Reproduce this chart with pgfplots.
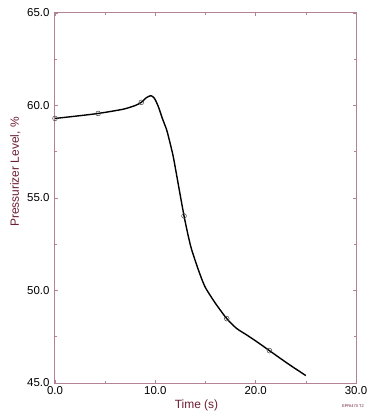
\documentclass[border=0pt]{standalone}
\usepackage{pgfplots}
\pgfplotsset{compat=1.18}
\usepackage{fontspec}
\setmainfont{Liberation Sans}
\definecolor{frame}{RGB}{180,130,150}
\definecolor{lab}{RGB}{110,30,50}
\begin{document}
\begin{tikzpicture}[x=1bp,y=1bp]
\useasboundingbox (-55,-37) rectangle (326,383);
\begin{axis}[
  at={(0,0)}, anchor=south west,
  scale only axis, width=301bp, height=370bp,
  xmin=0, xmax=30, ymin=45, ymax=65,
  xtick={0,10,20,30}, ytick={45,50,55,60,65},
  minor xtick={5,15,25}, minor ytick={47.5,52.5,57.5,62.5},
  xticklabels={0.0,10.0,20.0,30.0},
  yticklabels={45.0,50.0,55.0,60.0,65.0},
  tick align=inside, major tick length=3bp, minor tick length=2.5bp,
  tick style={frame, line width=0.6pt},
  axis line style={frame, line width=1bp},
  ticklabel style={font=\fontsize{11.5}{12}\selectfont, text=black},
  yticklabel style={xshift=-2bp},
  /pgf/number format/assume math mode=true,
  xlabel={Time (s)}, ylabel={Pressurizer Level, \%},
  xlabel style={font=\fontsize{12}{13}\selectfont, text=lab, at={(ticklabel cs:0.47)}, anchor=near ticklabel, yshift=2bp},
  ylabel style={font=\fontsize{12}{13}\selectfont, text=lab, at={(ticklabel cs:0.57)}, anchor=near ticklabel},
  clip=false,
]
\addplot[black, line width=1.4pt, smooth, tension=0.4] coordinates {
(0,59.3) (2,59.42) (4.3,59.57) (6.8,59.8) (8.0,60.0) (8.6,60.17) (9.1,60.42) (9.55,60.53)
(9.9,60.4) (10.3,59.94) (10.7,59.3) (11.13,58.68) (11.5,57.9) (11.8,57.2) (12.3,55.7)
(12.86,54.03) (13.3,52.9) (13.63,52.19) (14.3,51.1) (14.95,50.2) (16.0,49.3) (17.12,48.48)
(18.1,47.95) (19.1,47.6) (20.2,47.2) (21.37,46.75) (23.2,46.05) (25.0,45.4)
};
\addplot[only marks, mark=o, mark size=2.4bp, mark options={black!75, line width=0.5pt}] coordinates {
(0,59.3) (4.3,59.57) (8.6,60.17) (12.86,54.03) (17.12,48.48) (21.37,46.75)
};
\node[anchor=center, font=\fontsize{4}{5}\selectfont, text=lab] at (rel axis cs:0.99,-0.062) {EPRI470 T2};
\end{axis}
\end{tikzpicture}
\end{document}
